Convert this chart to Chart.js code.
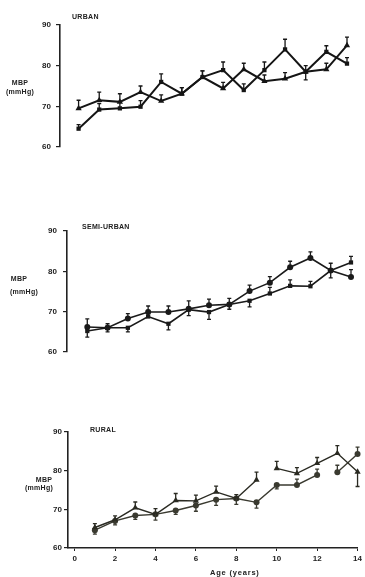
<!DOCTYPE html>
<html><head><meta charset="utf-8">
<script src="https://cdn.jsdelivr.net/npm/chart.js@4/dist/chart.umd.min.js"></script>
<style>
html,body{margin:0;padding:0;background:#fff;}
body{width:365px;height:577px;position:relative;overflow:hidden;font-family:"Liberation Sans",Arial,sans-serif;color:#222;}
.c{position:absolute;left:0;width:365px;}
.lbl{position:absolute;font-weight:bold;font-size:7px;line-height:8px;white-space:nowrap;color:#222;letter-spacing:0.3px;}
</style></head><body>
<div class="c" style="top:0;height:160px"><canvas id="urban" width="365" height="160"></canvas></div>
<div class="c" style="top:200px;height:170px"><canvas id="semi" width="365" height="170"></canvas></div>
<div class="c" style="top:400px;height:177px"><canvas id="rural" width="365" height="177"></canvas></div>

<div class="lbl" style="left:72px;top:13px;">URBAN</div>
<div class="lbl" style="left:82px;top:223px;">SEMI-URBAN</div>
<div class="lbl" style="left:90px;top:426px;">RURAL</div>

<div class="lbl" style="left:5px;top:78px;width:30px;text-align:center;line-height:9px;">MBP<br>(mmHg)</div>
<div class="lbl" style="left:4px;top:275px;width:30px;text-align:center;">MBP</div>
<div class="lbl" style="left:8px;top:288px;width:32px;text-align:center;">(mmHg)</div>
<div class="lbl" style="left:29px;top:476px;width:30px;text-align:center;">MBP</div>
<div class="lbl" style="left:24px;top:484px;width:30px;text-align:center;">(mmHg)</div>
<div class="lbl" style="left:210px;top:569px;font-size:7.5px;letter-spacing:0.8px;">Age (years)</div>

<script>
// ---- data ----
const ages = [1,2,3,4,5,6,7,8,9,10,11,12,13,14];
const yTicks = [60,70,80,90];
const xTicks = [0,2,4,6,8,10,12,14];

const urbanSquare   = [64.5,69.2,69.5,69.9,76.0,73.1,77.2,78.9,74.0,78.9,84.0,78.5,83.4,80.5];
const urbanSquareErr= [1.0,1.5,1.5,1.5,2.0,1.5,1.5,2.0,1.5,2.0,2.5,1.5,1.5,1.5];
const urbanTri      = [69.5,71.5,71.1,73.5,71.3,73.1,77.2,74.4,79.1,76.2,76.8,78.5,79.1,85.0];
const urbanTriErr   = [2.0,2.0,2.0,1.5,1.5,1.5,1.5,1.5,1.5,1.5,1.5,-2.0,1.5,2.0];

const semiCircle    = [66.2,66.0,68.3,69.9,69.9,70.7,71.6,71.8,75.1,77.2,81.0,83.3,80.2,78.6];
const semiCircleErr = [2.0,1.0,1.2,1.5,1.5,2.0,1.5,1.5,1.5,1.5,1.5,1.5,1.8,1.8];
const semiSquare    = [65.2,66.0,66.0,68.8,67.0,70.5,69.9,71.8,72.7,74.5,76.4,76.3,80.2,82.2];
const semiSquareErr = [-1.5,-1.0,-1.0,1.5,-1.5,-1.5,-1.8,-1.2,-1.5,1.5,1.5,1.2,-1.8,1.5];

const ruralTri      = [65.3,67.3,70.4,68.7,72.3,72.2,74.5,72.8,77.6,80.6,79.3,81.9,84.5,79.7];
const ruralTriErr   = [1.0,1.0,1.5,1.5,1.8,1.5,1.5,1.0,2.0,1.8,1.5,1.5,2.0,-3.8];
const ruralTriGaps  = [8];
const ruralCircle   = [64.6,67.0,68.4,68.7,69.7,71.0,72.5,72.8,71.8,76.3,76.3,78.9,79.6,84.3];
const ruralCircleErr= [-1.0,-1.0,-1.0,-1.5,-1.0,-1.5,-1.5,-1.5,-1.5,-1.0,1.5,1.5,1.8,1.8];
const ruralCircleGaps = [11];

// ---- helpers ----
const FONT = '"Liberation Sans", Arial, sans-serif';
const errPlugin = {
  id:'errbars',
  afterDatasetsDraw(chart){
    const ctx = chart.ctx, xs = chart.scales.x, ys = chart.scales.y;
    chart.data.datasets.forEach(d=>{
      if(!d.err) return;
      ctx.save();
      ctx.strokeStyle = d.borderColor;
      ctx.lineWidth = 1.3;
      d.data.forEach((p,i)=>{
        const e = d.err[i]; if(!e) return;
        const x = xs.getPixelForValue(p.x);
        const y0 = ys.getPixelForValue(p.y), y1 = ys.getPixelForValue(p.y+e);
        ctx.beginPath();
        ctx.moveTo(x,y0); ctx.lineTo(x,y1);
        ctx.moveTo(x-2,y1); ctx.lineTo(x+2,y1);
        ctx.stroke();
      });
      ctx.restore();
    });
  }
};

function series(values, err, style, color, width, gaps){
  return {
    data: ages.map((a,i)=>({x:a, y:values[i]})),
    err: err,
    borderColor: color, backgroundColor: color,
    pointBackgroundColor: color, pointBorderColor: color,
    borderWidth: width, pointStyle: style,
    pointRadius: style==='triangle'?3.6:3.0, pointBorderWidth:0,
    tension: 0, clip: false,
    segment: gaps ? { borderColor: c => gaps.includes(c.p0DataIndex) ? 'rgba(0,0,0,0)' : undefined } : undefined
  };
}

function makeChart(id, datasets, o){
  new Chart(document.getElementById(id), {
    type:'line',
    data:{ datasets },
    plugins:[errPlugin],
    options:{
      responsive:false, animation:false, devicePixelRatio:1,
      layout:{ padding:{ top:o.pt, bottom:o.pb, left:0, right:o.pr } },
      plugins:{ legend:{display:false}, tooltip:{enabled:false}, title:{display:false} },
      scales:{
        x:{
          type:'linear', min:o.xmin, max:14, display:o.showX,
          afterBuildTicks: s=>{ s.ticks = xTicks.map(v=>({value:v})); },
          afterFit: s=>{ s.height = o.showX ? 17 : 0; },
          grid:{ display:true, drawOnChartArea:false, drawTicks:true, tickLength:3, color:'#222', lineWidth:1 },
          border:{ display:true, color:'#222', width:1.6 },
          ticks:{ font:{ size:8, weight:'bold', family:FONT }, color:'#222', padding:3, maxRotation:0, autoSkip:false }
        },
        y:{
          min:60, max:90,
          afterBuildTicks: s=>{ s.ticks = yTicks.map(v=>({value:v})); },
          afterFit: s=>{ s.width = o.left; },
          grid:{ display:true, drawOnChartArea:false, drawTicks:true, tickLength:4, color:'#222', lineWidth:1.2 },
          border:{ display:true, color:'#222', width:1.6 },
          ticks:{ font:{ size:8, weight:'bold', family:FONT }, color:'#222', padding:o.tp }
        }
      }
    }
  });
}

makeChart('urban', [
  series(urbanSquare, urbanSquareErr, 'rect', '#151515', 2, null),
  series(urbanTri, urbanTriErr, 'triangle', '#151515', 2, null)
], {pt:25, pb:13, pr:18, left:60, xmin:0.1, showX:false, tp:5});

makeChart('semi', [
  series(semiCircle, semiCircleErr, 'circle', '#1a1a1a', 1.6, null),
  series(semiSquare, semiSquareErr, 'rect', '#1a1a1a', 1.6, null)
], {pt:31, pb:18, pr:14, left:67, xmin:0, showX:false, tp:6});

makeChart('rural', [
  series(ruralTri, ruralTriErr, 'triangle', '#2a2a22', 1.4, ruralTriGaps),
  series(ruralCircle, ruralCircleErr, 'circle', '#3a3a30', 1.4, ruralCircleGaps)
], {pt:32, pb:12, pr:4, left:68, xmin:-0.33, showX:true, tp:2});
</script>
</body></html>
